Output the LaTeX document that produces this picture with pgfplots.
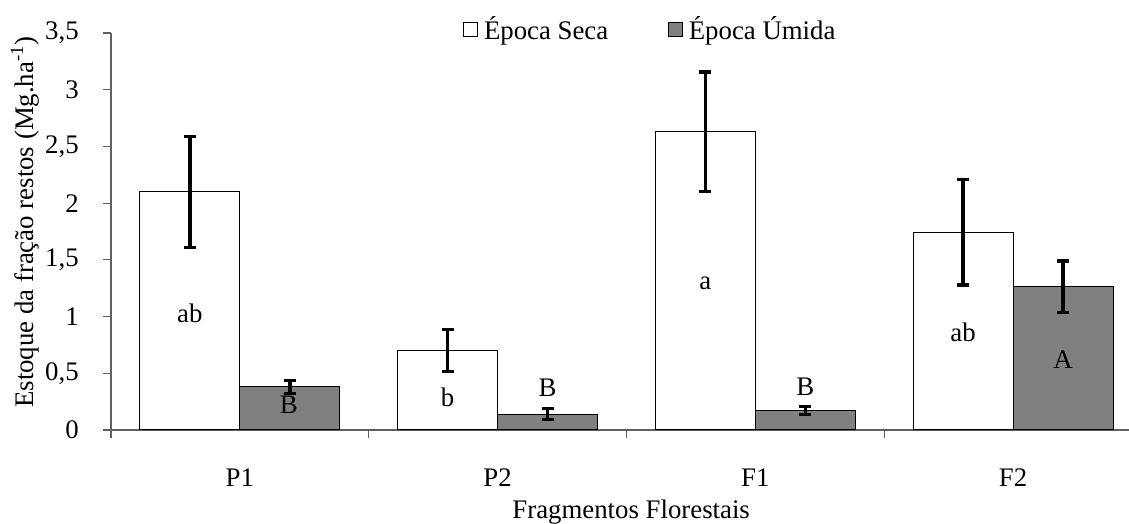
\documentclass[border=0pt]{standalone}
\usepackage{fontspec}
\setmainfont{Liberation Serif}
\usepackage{pgfplots}
\pgfplotsset{compat=1.18}
\usepackage{pgfplotstable}

\definecolor{umida}{HTML}{808080}
\definecolor{axisgray}{HTML}{606060}

% Estoque da fração restos: média e desvio por fragmento (0=P1, 1=P2, 2=F1, 3=F2)
\pgfplotstableread{
x y err
0 2.10 0.490
1 0.70 0.185
2 2.63 0.525
3 1.745 0.465
}\seca
\pgfplotstableread{
x y err
0 0.38 0.057
1 0.14 0.048
2 0.172 0.036
3 1.262 0.228
}\umida

\begin{document}
\fontsize{13.4}{16}\selectfont
\begin{tikzpicture}[font=\fontsize{13.4}{16}\selectfont]
\useasboundingbox (-55.5pt,-47pt) rectangle (509pt,215pt);
\begin{axis}[
  at={(0,0)}, anchor=south west,
  scale only axis, width=509pt, height=198.5pt,
  xmin=-0.5, xmax=3.45, ymin=0, ymax=3.5,
  axis x line*=bottom, axis y line*=left,
  axis line style={-, draw=axisgray, line width=0.6pt},
  tick align=outside,
  major tick length=4pt, minor tick length=4pt,
  tick style={draw=axisgray, line width=0.6pt},
  xtick={0,1,2,3}, xticklabels={P1,P2,F1,F2},
  minor xtick={-0.5,0.5,1.5,2.5},
  major x tick style={draw=none},
  ytick={0,0.5,...,3.5},
  /pgf/number format/.cd, use comma, fixed, precision=1, assume math mode=true,
  /pgfplots/.cd,
  xticklabel style={anchor=base, yshift=-24pt},
  yticklabel style={xshift=-7.5pt},
  xlabel={Fragmentos Florestais},
  ylabel={Estoque da fração restos (Mg.ha\textsuperscript{-1})},
  xlabel style={at={(axis description cs:0.511,-0.2217)}, anchor=base},
  ylabel style={at={(axis description cs:-0.0845,0.524)}, anchor=center},
  ybar, bar width=50pt,
  legend columns=2,
  legend style={draw=none, fill=none, inner sep=0pt,
    at={(axis description cs:0.3458,1.008)}, anchor=west,
    /tikz/every odd column/.append style={column sep=0.8pt},
    /tikz/every even column/.append style={column sep=28pt}},
  legend image code/.code={\draw[#1, line width=0.5pt] (0pt,-3.5pt) rectangle (7pt,3.5pt);},
  error bars/y dir=both, error bars/y explicit,
  error bars/error bar style={black, line width=1.7pt},
  error bars/error mark options={black, rotate=90, mark size=3pt, line width=1.7pt},
]
\addplot[bar shift=-25pt, fill=white, draw=black, line width=0.5pt]
  table[x=x, y=y, y error=err] {\seca};
\addlegendentry{Época Seca}
\addplot[bar shift=25pt, fill=umida, draw=black, line width=0.5pt]
  table[x=x, y=y, y error=err] {\umida};
\addlegendentry{Época Úmida}

% letras do teste de médias
\node at (axis cs:-0.194,1.03) {ab};
\node at (axis cs:0.19,0.22) {B};
\node at (axis cs:0.806,0.29) {b};
\node at (axis cs:1.194,0.37) {B};
\node at (axis cs:1.806,1.29) {a};
\node at (axis cs:2.194,0.38) {B};
\node at (axis cs:2.806,0.86) {ab};
\node at (axis cs:3.194,0.62) {A};
\end{axis}
\end{tikzpicture}
\end{document}
